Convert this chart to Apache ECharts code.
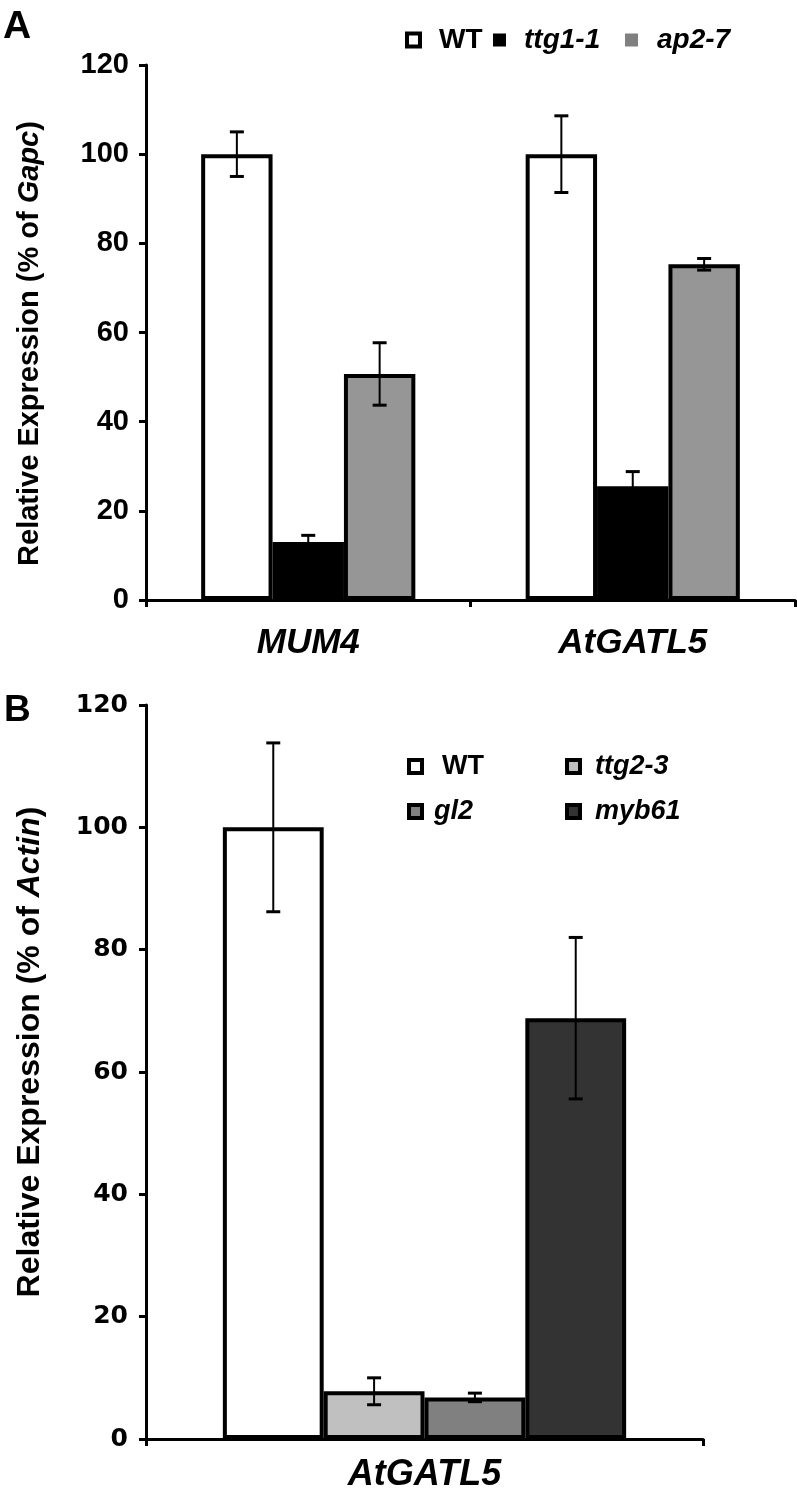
<!DOCTYPE html>
<html><head><meta charset="utf-8">
<script src="https://cdn.jsdelivr.net/npm/echarts@6/dist/echarts.min.js"></script>
<style>html,body{margin:0;padding:0;background:#fff}#c{width:797px;height:1493px}</style>
</head><body><div id="c"></div>
<script>
// ---------- Panel A data ----------
const catsA = ['MUM4', 'AtGATL5'];
const namesA = ['WT', 'ttg1-1', 'ap2-7'];
const wtA = [100, 100];
const wtAErr = [5, 8.6];
const ttg1A = [13, 25.5];
const ttg1AErr = [1.5, 3.3];
const ap2A = [50.7, 75.3];
const ap2AErr = [7, 1.3];
// ---------- Panel B data ----------
const catsB = ['AtGATL5'];
const namesB = ['WT', 'ttg2-3', 'gl2', 'myb61'];
const wtB = [100];
const wtBErr = [13.8];
const ttg2B = [7.8];
const ttg2BErr = [2.2];
const gl2B = [6.8];
const gl2BErr = [0.7];
const myb61B = [68.8];
const myb61BErr = [13.2];
// ---------- axis ticks ----------
const yMin = 0, yMax = 120, yStep = 20;

const FF = 'Liberation Sans, Arial, sans-serif';
const gapA = 0.34, gapB = 0.276;

function errRender(n, gap) {
  return function (params, api) {
    const cat = api.value(0), k = api.value(1), v = api.value(2), e = api.value(3);
    const c = api.coord([cat, v]);
    const band = api.size([1, 0])[0];
    const gw = band * (1 - gap);
    const bw = gw / n;
    const x = c[0] - gw / 2 + bw * (k + 0.5);
    const top = api.coord([cat, v + e])[1];
    const bot = api.coord([cat, v - e])[1];
    const cap = 7;
    return {
      type: 'group', children: [
        { type: 'line', shape: { x1: x, y1: top, x2: x, y2: bot }, style: { stroke: '#000', lineWidth: 2 } },
        { type: 'line', shape: { x1: x - cap, y1: top, x2: x + cap, y2: top }, style: { stroke: '#000', lineWidth: 3 } },
        { type: 'line', shape: { x1: x - cap, y1: bot, x2: x + cap, y2: bot }, style: { stroke: '#000', lineWidth: 3 } }
      ]
    };
  };
}
function errData(vals, errs) {
  const out = [];
  vals.forEach((arr, k) => arr.forEach((v, i) => out.push([i, k, v, errs[k][i]])));
  return out;
}

const xAxisCommon = {
  type: 'category',
  axisLine: { lineStyle: { color: '#000', width: 3 } },
  axisTick: { show: true, length: 7, lineStyle: { color: '#000', width: 3 } }
};
const yAxisCommon = {
  type: 'value', min: yMin, max: yMax, interval: yStep,
  axisLine: { show: true, lineStyle: { color: '#000', width: 3 } },
  axisTick: { show: true, length: 7, lineStyle: { color: '#000', width: 3 } },
  splitLine: { show: false },
  nameLocation: 'middle', nameRotate: 90, nameGap: 102
};

function legendItem(name, left, top, fs, italic, pad, itemStyle) {
  return {
    data: [{ name: name, itemStyle: itemStyle }],
    left: left, top: top, padding: 0, icon: 'rect', itemWidth: 13, itemHeight: 13,
    selectedMode: false,
    textStyle: { color: '#000', fontFamily: FF, fontWeight: 'bold', fontStyle: italic ? 'italic' : 'normal', fontSize: fs, padding: [0, 0, 0, pad] }
  };
}

const barStyle = (c) => ({ color: c, borderColor: '#000', borderWidth: 4 });

const option = {
  animation: false,
  backgroundColor: '#fff',
  graphic: [
    { type: 'text', left: 3, top: 8, style: { text: 'A', font: 'bold 39px ' + FF, fill: '#000' } },
    { type: 'text', left: 4, top: 692, style: { text: 'B', font: 'bold 37px ' + FF, fill: '#000' } }
  ],
  legend: [
    legendItem('WT', 405, 26, 28, false, 14, { color: '#fff', borderColor: '#000', borderWidth: 4 }),
    legendItem('ttg1-1', 493, 26, 28, true, 13, { color: '#000', borderColor: '#000', borderWidth: 0 }),
    legendItem('ap2-7', 625, 26, 28, true, 14, { color: '#808080', borderColor: '#808080', borderWidth: 0 }),
    legendItem('WT', 407, 753, 27, false, 15, { color: '#fff', borderColor: '#000', borderWidth: 4 }),
    legendItem('ttg2-3', 565, 753, 27, true, 10, { color: '#c0c0c0', borderColor: '#000', borderWidth: 4 }),
    legendItem('gl2', 407, 798, 27, true, 7, { color: '#808080', borderColor: '#000', borderWidth: 4 }),
    legendItem('myb61', 565, 798, 27, true, 10, { color: '#333333', borderColor: '#000', borderWidth: 4 })
  ],
  grid: [
    { left: 146, top: 65, width: 649, height: 535 },
    { left: 146, top: 705, width: 557, height: 736 }
  ],
  xAxis: [
    Object.assign({}, xAxisCommon, { gridIndex: 0, data: catsA,
      axisLabel: { color: '#000', fontFamily: FF, fontWeight: 'bold', fontStyle: 'italic', fontSize: 35, margin: 26 } }),
    Object.assign({}, xAxisCommon, { gridIndex: 1, data: catsB,
      axisLabel: { color: '#000', fontFamily: FF, fontWeight: 'bold', fontStyle: 'italic', fontSize: 36, margin: 18 } })
  ],
  yAxis: [
    Object.assign({}, yAxisCommon, {
      gridIndex: 0, name: 'Relative Expression (% of {i|Gapc})',
      axisLabel: { color: '#000', fontFamily: FF, fontWeight: 'bold', fontSize: 29, margin: 17 },
      nameTextStyle: { color: '#000', fontFamily: FF, fontWeight: 'bold', fontSize: 29, padding: [0, 22, 0, 0],
        rich: { i: { fontStyle: 'italic', fontWeight: 'bold', fontSize: 29, fontFamily: FF, color: '#000' } } }
    }),
    Object.assign({}, yAxisCommon, {
      gridIndex: 1, name: 'Relative Expression (% of {i|Actin})', nameGap: 100,
      axisLabel: { color: '#000', fontFamily: 'DejaVu Sans, sans-serif', fontWeight: 'bold', fontSize: 25, margin: 18 },
      nameTextStyle: { color: '#000', fontFamily: FF, fontWeight: 'bold', fontSize: 32, padding: [0, 0, 0, 40],
        rich: { i: { fontStyle: 'italic', fontWeight: 'bold', fontSize: 32, fontFamily: FF, color: '#000' } } }
    })
  ],
  series: [
    { name: 'WT', type: 'bar', xAxisIndex: 0, yAxisIndex: 0, data: wtA, barGap: '0%', barCategoryGap: (gapA * 100) + '%', itemStyle: barStyle('#ffffff') },
    { name: 'ttg1-1', type: 'bar', xAxisIndex: 0, yAxisIndex: 0, data: ttg1A, itemStyle: barStyle('#000000') },
    { name: 'ap2-7', type: 'bar', xAxisIndex: 0, yAxisIndex: 0, data: ap2A, itemStyle: barStyle('#969696') },
    { type: 'custom', xAxisIndex: 0, yAxisIndex: 0, z: 5, renderItem: errRender(3, gapA),
      data: errData([wtA, ttg1A, ap2A], [wtAErr, ttg1AErr, ap2AErr]) },
    { name: 'WT', type: 'bar', xAxisIndex: 1, yAxisIndex: 1, data: wtB, barGap: '0%', barCategoryGap: (gapB * 100) + '%', itemStyle: barStyle('#ffffff') },
    { name: 'ttg2-3', type: 'bar', xAxisIndex: 1, yAxisIndex: 1, data: ttg2B, itemStyle: barStyle('#c0c0c0') },
    { name: 'gl2', type: 'bar', xAxisIndex: 1, yAxisIndex: 1, data: gl2B, itemStyle: barStyle('#808080') },
    { name: 'myb61', type: 'bar', xAxisIndex: 1, yAxisIndex: 1, data: myb61B, itemStyle: barStyle('#333333') },
    { type: 'custom', xAxisIndex: 1, yAxisIndex: 1, z: 5, renderItem: errRender(4, gapB),
      data: errData([wtB, ttg2B, gl2B, myb61B], [wtBErr, ttg2BErr, gl2BErr, myb61BErr]) }
  ]
};
const chart = echarts.init(document.getElementById('c'), null, { renderer: 'canvas' });
chart.setOption(option);
</script></body></html>
